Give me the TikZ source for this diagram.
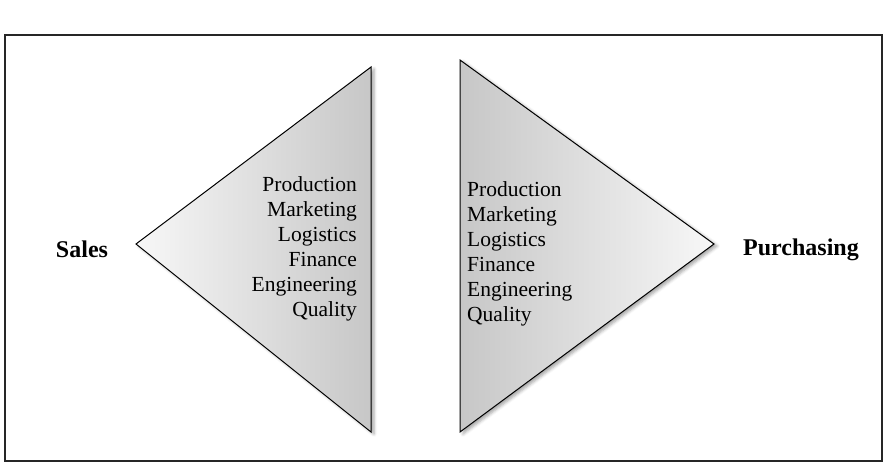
\documentclass[tikz,border=0pt]{standalone}
\usepackage{fontspec}
\setmainfont{Liberation Serif}
\usetikzlibrary{shadows.blur}
\begin{document}
\begin{tikzpicture}[x=1pt,y=-1pt,
  frame/.style={draw=black!85,line width=1.3pt},
  tri/.style={draw=black,line width=1pt,line join=miter,
    blur shadow={shadow xshift=3pt,shadow yshift=-2pt,shadow blur radius=3pt,shadow opacity=35}},
  lbl/.style={font=\fontsize{24}{28}\selectfont\bfseries,inner sep=0pt,anchor=base},
  item/.style={font=\fontsize{21.5}{25}\selectfont,inner sep=0pt,anchor=base}]
\useasboundingbox (0,0) rectangle (884,466);
\draw[frame] (5,35) rectangle (882,461);
% left triangle
\path[tri,left color=white!97!black,right color=black!22] (136,244) -- (371,67) -- (371,432) -- cycle;
% right triangle
\path[tri,left color=black!22,right color=white!97!black] (460,60) -- (714,244) -- (460,432) -- cycle;
\node[lbl] (sales) at (82,257) {Sales};
\node[lbl] (purch) at (801,255) {Purchasing};
\node[item,anchor=base east] (l1) at (357,191) {Production};
\node[item,anchor=base east] (l2) at (357,216) {Marketing};
\node[item,anchor=base east] (l3) at (357,241) {Logistics};
\node[item,anchor=base east] (l4) at (357,266) {Finance};
\node[item,anchor=base east] (l5) at (357,291) {Engineering};
\node[item,anchor=base east] (l6) at (357,316) {Quality};
\node[item,anchor=base west] (r1) at (467,196) {Production};
\node[item,anchor=base west] (r2) at (467,221) {Marketing};
\node[item,anchor=base west] (r3) at (467,246) {Logistics};
\node[item,anchor=base west] (r4) at (467,271) {Finance};
\node[item,anchor=base west] (r5) at (467,296) {Engineering};
\node[item,anchor=base west] (r6) at (467,321) {Quality};
\end{tikzpicture}
\end{document}
